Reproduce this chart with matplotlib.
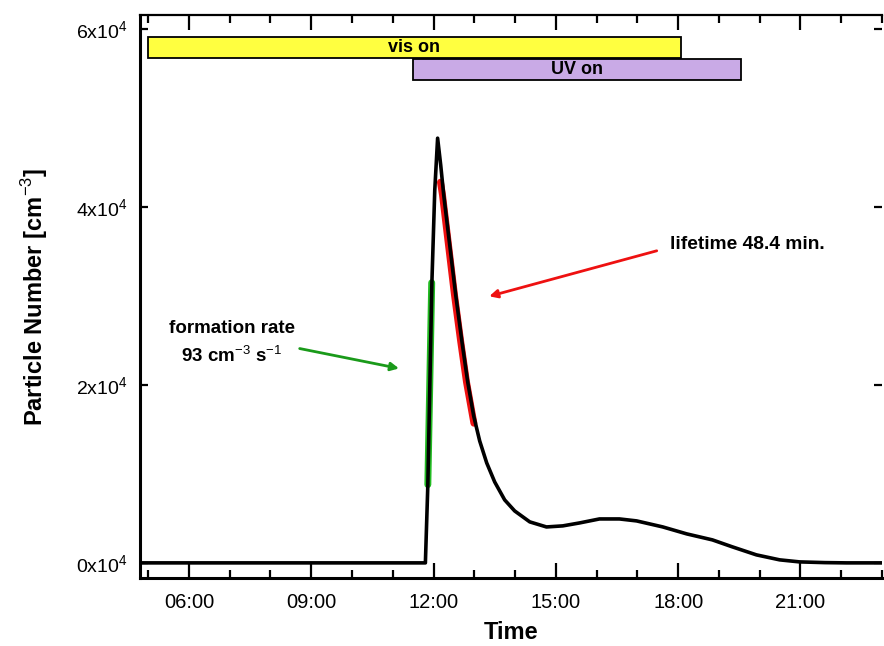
import numpy as np
import matplotlib
matplotlib.use("Agg")
import matplotlib.pyplot as plt
from matplotlib.ticker import FixedLocator, MultipleLocator

plt.rcParams['font.family'] = ['Liberation Sans', 'DejaVu Sans']
plt.rcParams['mathtext.fontset'] = 'custom'
plt.rcParams['mathtext.rm'] = 'Liberation Sans'
plt.rcParams['mathtext.bf'] = 'Liberation Sans:bold'

# particle number vs time of day (hours)
time_h = [4.8, 11.80, 11.86, 11.96, 12.03, 12.10, 12.176, 12.25, 12.397, 12.544,
          12.691, 12.838, 12.985, 13.132, 13.304, 13.50, 13.745, 13.99, 14.36, 14.77,
          15.17, 15.58, 16.07, 16.56, 16.98, 17.62, 18.21, 18.84, 19.33, 19.92,
          20.49, 20.98, 21.6, 22.13, 23.0]
particles = [0, 0, 8760, 31570, 41900, 47750, 44720, 41350, 35730, 30110,
             25060, 20340, 16520, 13710, 11240, 9100, 7080, 5840, 4610, 4040,
             4160, 4490, 4940, 4940, 4720, 4045, 3260, 2585, 1800, 900,
             340, 110, 30, 0, 0]

# fitted segments
rise_t = [11.86, 11.955]
rise_n = [8800, 31500]
decay_t = [12.20, 12.25, 12.397, 12.544, 12.691, 12.838, 13.02]
decay_n = [42800, 41350, 35730, 30110, 25060, 20340, 15700]

# light periods
lamp_names = ['vis on', 'UV on']
lamp_start = [5.0, 11.49]
lamp_end = [18.06, 19.53]
lamp_colors = ['#FFFF40', '#C9AAE6']

yticks = [0, 20000, 40000, 60000]
ylabels = [r'$\mathregular{0x10^4}$', r'$\mathregular{2x10^4}$',
           r'$\mathregular{4x10^4}$', r'$\mathregular{6x10^4}$']
xticks = [6, 9, 12, 15, 18, 21]
xlabels = ['06:00', '09:00', '12:00', '15:00', '18:00', '21:00']

fig = plt.figure(figsize=(8.84, 6.46), dpi=100)
ax = fig.add_axes([140/884, 1-578/646, 742/884, 563/646])

# lamp bars
bar_y = [57920, 55500]
for i in range(len(lamp_names)):
    ax.barh(bar_y[i], lamp_end[i]-lamp_start[i], left=lamp_start[i], height=2400,
            color=lamp_colors[i], edgecolor='black', linewidth=1.3, zorder=2)
    ax.text((lamp_start[i]+lamp_end[i])/2, bar_y[i], lamp_names[i], ha='center',
            va='center', fontsize=13, fontweight='bold', zorder=3)

ax.plot(rise_t, rise_n, color='#22BB22', lw=5, solid_capstyle='round', zorder=3)
ax.plot(np.array(decay_t)-0.03, decay_n, color='#EE1111', lw=5, solid_capstyle='round', zorder=3)
ax.plot(time_h, particles, color='black', lw=2.6, zorder=4)

ax.annotate('', xy=(11.22, 21800), xytext=(8.65, 24160),
            arrowprops=dict(arrowstyle='-|>', color='#1A9A1A', lw=2, mutation_scale=12))
ax.annotate('', xy=(13.30, 29890), xytext=(17.54, 35170),
            arrowprops=dict(arrowstyle='-|>', color='#EE1111', lw=2, mutation_scale=12))
ax.text(7.05, 24700, 'formation rate\n93 cm$^{-3}$ s$^{-1}$', ha='center', va='center',
        multialignment='center', fontsize=13.5, fontweight='bold', linespacing=1.5)
ax.text(17.8, 35840, 'lifetime 48.4 min.', ha='left', va='center',
        fontsize=13.8, fontweight='bold')

ax.set_xlim(4.8, 23.0)
ax.set_ylim(-1700, 61600)
ax.xaxis.set_major_locator(FixedLocator(xticks))
ax.set_xticklabels(xlabels)
ax.xaxis.set_minor_locator(MultipleLocator(1))
ax.yaxis.set_major_locator(FixedLocator(yticks))
ax.set_yticklabels(ylabels)

ax.spines['right'].set_visible(False)
ax.spines['left'].set_linewidth(2.2)
ax.spines['bottom'].set_linewidth(2.2)
ax.spines['top'].set_linewidth(1.6)
ax.tick_params(axis='x', which='major', direction='in', length=11, width=1.6,
               top=True, labelsize=14.5, pad=11)
ax.tick_params(axis='x', which='minor', direction='in', length=5.5, width=1.6, top=True)
ax.tick_params(axis='y', which='major', direction='in', length=6, width=1.6,
               right=True, labelsize=14, pad=9)

ax.set_xlabel('Time', fontsize=17, fontweight='bold', labelpad=6)
ax.set_ylabel('Particle Number [cm$^{-3}$]', fontsize=17, fontweight='bold', labelpad=19)

fig.savefig('out.png', dpi=100)
